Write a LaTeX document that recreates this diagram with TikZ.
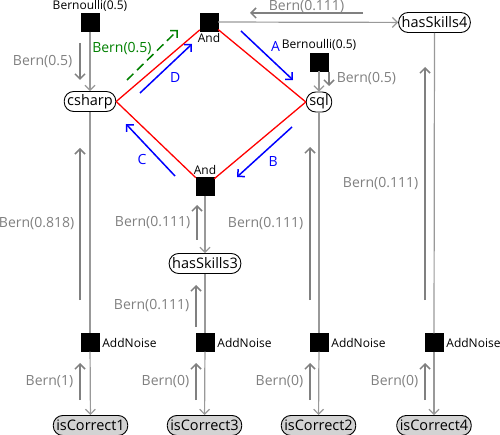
\documentclass[tikz,border=0pt]{standalone}
\usepackage{fontspec}
\setmainfont{Open Sans}
\usepackage{tikz}
\usetikzlibrary{arrows.meta,positioning,calc}
\definecolor{msggray}{HTML}{808080}
\definecolor{edgegray}{HTML}{999999}
\definecolor{obsfill}{HTML}{D3D3D3}
\definecolor{andred}{HTML}{FF0000}
\definecolor{pathblue}{HTML}{0000FF}
\definecolor{initgreen}{HTML}{008000}

\begin{document}
\begin{tikzpicture}[
    x=1pt, y=-1pt,
    every node/.style={font=\fontsize{14}{16}\selectfont},
    var/.style={draw=black, fill=white, rounded corners=9.5pt, line width=0.9pt, minimum height=20pt, inner xsep=3pt, inner ysep=2pt, font=\fontsize{14.5}{16}\selectfont},
    obs/.style={var, fill=obsfill},
    factor/.style={draw=black, fill=black, minimum size=18pt, inner sep=0pt},
    flabel/.style={font=\fontsize{12}{13}\selectfont, text=black, inner sep=1pt},
    mlabel/.style={text=msggray, inner sep=2pt},
    edge/.style={draw=edgegray, line width=1.2pt},
    tip/.style={-{Straight Barb[length=5pt,width=10pt]}},
    msg/.style={tip, draw=msggray, line width=1.5pt},
    andline/.style={draw=andred, line width=1.3pt},
    bluemsg/.style={tip, draw=pathblue, line width=1.5pt},
    greenmsg/.style={tip, draw=initgreen, line width=1.5pt, dash pattern=on 9pt off 5pt}
]
    \useasboundingbox (0,0) rectangle (500,435);

    % Variables
    \node[var] (csharp) at (90,101.5) {csharp};
    \node[var] (sql) at (319,102) {sql};
    \node[var] (hasSkills4) at (434.5,22.5) {hasSkills4};
    \node[var] (hasSkills3) at (205,263.5) {hasSkills3};
    \node[obs] (isCorrect1) at (90.5,425.5) {isCorrect1};
    \node[obs] (isCorrect3) at (204.5,425.5) {isCorrect3};
    \node[obs] (isCorrect2) at (318.5,425.5) {isCorrect2};
    \node[obs] (isCorrect4) at (434,425.5) {isCorrect4};

    % Factors
    \node[factor] (priorC) at (90,22.5) {};
    \node[flabel, above=1pt of priorC] {Bernoulli(0.5)};
    \node[factor] (priorS) at (319,62) {};
    \node[flabel, above=1pt of priorS] {Bernoulli(0.5)};
    \node[factor] (andTop) at (209,22) {};
    \node[flabel, below=1pt of andTop] {And};
    \node[factor] (andBot) at (205,186.5) {};
    \node[flabel, above=1pt of andBot] {And};
    \node[factor] (noise1) at (90,342.5) {};
    \node[flabel, right=2pt of noise1] {AddNoise};
    \node[factor] (noise3) at (205,342.5) {};
    \node[flabel, right=2pt of noise3] {AddNoise};
    \node[factor] (noise2) at (319,342.5) {};
    \node[flabel, right=2pt of noise2] {AddNoise};
    \node[factor] (noise4) at (434,342.5) {};
    \node[flabel, right=2pt of noise4] {AddNoise};

    % Graph edges
    \draw[edge, tip] (priorC) -- (csharp);
    \draw[edge, tip] (priorS) -- (sql);
    \draw[edge, tip] (andTop) -- (hasSkills4);
    \draw[edge, tip] (andBot) -- (hasSkills3);
    \draw[edge] (csharp) -- (noise1);
    \draw[edge] (hasSkills3) -- (noise3);
    \draw[edge] (sql) -- (noise2);
    \draw[edge] (hasSkills4) -- (noise4);
    \draw[edge, tip] (noise1) -- (isCorrect1);
    \draw[edge, tip] (noise3) -- (isCorrect3);
    \draw[edge, tip] (noise2) -- (isCorrect2);
    \draw[edge, tip] (noise4) -- (isCorrect4);

    % The And loop
    \draw[andline] (csharp.east) -- (andTop);
    \draw[andline] (andTop) -- (sql.west);
    \draw[andline] (sql.west) -- (andBot);
    \draw[andline] (andBot) -- (csharp.east);

    % Message end points
    \coordinate (mCa) at (80,43);   \coordinate (mCb) at (80,80);
    \coordinate (mSa) at (329,72);  \coordinate (mSb) at (329,86);
    \coordinate (mTa) at (363,13);  \coordinate (mTb) at (250,13);
    \coordinate (mGa) at (127,80);  \coordinate (mGb) at (178,30);
    \coordinate (mAa) at (241,31);  \coordinate (mAb) at (293,80);
    \coordinate (mBa) at (292,127); \coordinate (mBb) at (237,177);
    \coordinate (mDa) at (140,93);  \coordinate (mDb) at (192,44);
    \coordinate (mXa) at (175,176); \coordinate (mXb) at (126,124);
    \coordinate (m1a) at (80,300);  \coordinate (m1b) at (80,148);
    \coordinate (m2a) at (310,300); \coordinate (m2b) at (310,147);
    \coordinate (m4a) at (425,300); \coordinate (m4b) at (425,67);
    \coordinate (m3a) at (197,240); \coordinate (m3b) at (197,205);
    \coordinate (m3c) at (196,327); \coordinate (m3d) at (196,285);
    \coordinate (n1a) at (80,400);  \coordinate (n1b) at (80,363);
    \coordinate (n3a) at (196,400); \coordinate (n3b) at (196,363);
    \coordinate (n2a) at (310,400); \coordinate (n2b) at (310,363);
    \coordinate (n4a) at (425,400); \coordinate (n4b) at (425,363);

    % Messages
    \draw[msg] (mCa) -- node[mlabel, left=5pt] {Bern(0.5)} (mCb);
    \draw[msg] (mSa) -- node[mlabel, right=5pt] {Bern(0.5)} (mSb);
    \draw[msg] (mTa) -- node[mlabel, above=-2pt] {Bern(0.111)} (mTb);
    \draw[greenmsg] (mGa) -- node[pos=0.62, left=3pt, text=initgreen] {Bern(0.5)} (mGb);
    \draw[bluemsg] (mAa) -- node[above right, text=pathblue] {A} (mAb);
    \draw[bluemsg] (mBa) -- node[below right, text=pathblue] {B} (mBb);
    \draw[bluemsg] (mDa) -- node[below right, text=pathblue] {D} (mDb);
    \draw[bluemsg] (mXa) -- node[below left, text=pathblue] {C} (mXb);
    \draw[msg] (m1a) -- node[mlabel, left=3pt] {Bern(0.818)} (m1b);
    \draw[msg] (m2a) -- node[mlabel, left=4pt] {Bern(0.111)} (m2b);
    \draw[msg] (m4a) -- node[mlabel, left=4pt] {Bern(0.111)} (m4b);
    \draw[msg] (m3a) -- node[mlabel, left=4pt] {Bern(0.111)} (m3b);
    \draw[msg] (m3c) -- node[mlabel, left=4pt] {Bern(0.111)} (m3d);
    \draw[msg] (n1a) -- node[mlabel, left=4pt] {Bern(1)} (n1b);
    \draw[msg] (n3a) -- node[mlabel, left=4pt] {Bern(0)} (n3b);
    \draw[msg] (n2a) -- node[mlabel, left=4pt] {Bern(0)} (n2b);
    \draw[msg] (n4a) -- node[mlabel, left=4pt] {Bern(0)} (n4b);
\end{tikzpicture}
\end{document}
